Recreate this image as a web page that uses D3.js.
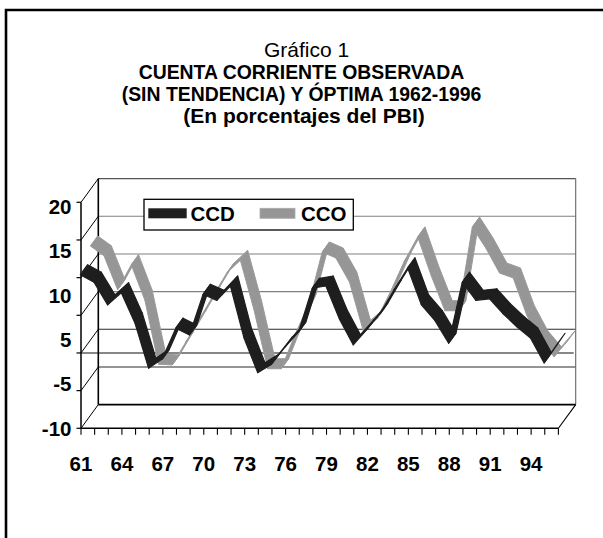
<!DOCTYPE html>
<html><head><meta charset="utf-8">
<script src="https://cdn.jsdelivr.net/npm/d3@7"></script>
<style>body{margin:0;background:#fff}svg{display:block}text{font-family:"Liberation Sans",Arial,Helvetica,sans-serif;fill:#000}</style>
</head><body><svg id="c" width="603" height="538"></svg>
<script>
// ---- data ----
const years = d3.range(1961, 1997);
const xLabelYears = [1961,1964,1967,1970,1973,1976,1979,1982,1985,1988,1991,1994];
const yTickLabels = ["20","15","10","5","-5","-10"];
const yTickValues = [20,15,10,5,0,-5,-10];
const gridValues = [15,10,5,0,-5];
const seriesNames = ["CCD","CCO"];
const CCD = [10.5,9.5,6.5,8.1,4.1,-1.9,-0.7,3.4,2.5,7.9,7.1,9.0,2.1,-2.5,-1.4,0.9,2.9,8.7,9.0,4.6,1.2,3.2,5.4,8.5,11.4,6.5,4.4,1.4,9.5,7.1,7.3,5.3,3.6,2.1,-1.2,1.4];
const CCO = [12.5,11.2,6.7,10.0,5.3,-3.2,-3.3,-0.25,2.8,5.9,8.9,10.6,4.0,-3.8,-3.8,0.7,4.7,11.7,10.9,7.7,1.3,2.8,6.4,10.4,13.7,8.5,3.9,3.9,15.0,12.2,8.9,8.25,3.3,-0.1,-2.2,-0.1];
const titleLines = ["Gráfico 1","CUENTA CORRIENTE OBSERVADA","(SIN TENDENCIA) Y ÓPTIMA 1962-1996","(En porcentajes del PBI)"];

// ---- layout ----
const svg = d3.select("#c");
const x = d3.scaleLinear().domain([1961, 1996]).range([81, 558.4]);
const y = d3.scaleLinear().domain([-10, 20]).range([428.3, 202.3]);
const D = [17.3, -23.7];           // front -> back depth vector
const yLab = d3.scalePoint().domain(yTickLabels).range([206.7, 428.2]);
const font = '"Liberation Sans",Arial,sans-serif';
const lblSize = "20.5px";

// outer frame
svg.append("path").attr("d","M6,538V10H603").attr("fill","none").attr("stroke","#000").attr("stroke-width",2.6);

const bx0 = x(1961) + D[0], bx1 = x(1996) + D[0];
// back wall gridlines
gridValues.forEach(v => {
  svg.append("line").attr("x1", bx0).attr("x2", bx1)
    .attr("y1", y(v) + D[1]).attr("y2", y(v) + D[1])
    .attr("stroke", v <= 0 ? "#2a2a2a" : "#808080").attr("stroke-width", 1.1);
});
// back wall border
svg.append("line").attr("x1",bx0).attr("x2",bx1).attr("y1",y(20)+D[1]).attr("y2",y(20)+D[1]).attr("stroke","#555").attr("stroke-width",1.1);
svg.append("line").attr("x1",bx1).attr("x2",bx1).attr("y1",y(20)+D[1]).attr("y2",y(-10)+D[1]).attr("stroke","#666").attr("stroke-width",1.1);
svg.append("line").attr("x1",bx0).attr("x2",bx0).attr("y1",y(20)+D[1]).attr("y2",y(-10)+D[1]).attr("stroke","#000").attr("stroke-width",1.6);
svg.append("line").attr("x1",bx0).attr("x2",bx1).attr("y1",y(-10)+D[1]).attr("y2",y(-10)+D[1]).attr("stroke","#000").attr("stroke-width",1.8);
// side wall diagonals
yTickValues.forEach(v => {
  svg.append("line").attr("x1", x(1961)).attr("y1", y(v))
    .attr("x2", x(1961) + D[0]).attr("y2", y(v) + D[1])
    .attr("stroke", "#000").attr("stroke-width", 1);
});
// zero line on the front plane
svg.append("line").attr("x1", x(1961)).attr("x2", bx1 - 2).attr("y1", y(0)).attr("y2", y(0)).attr("stroke","#111").attr("stroke-width",1.1);
// floor front edge + right diagonal
svg.append("line").attr("x1",x(1961)).attr("x2",x(1996)).attr("y1",y(-10)).attr("y2",y(-10)).attr("stroke","#000").attr("stroke-width",1.4);
svg.append("line").attr("x1",x(1996)).attr("y1",y(-10)).attr("x2",x(1996)+D[0]).attr("y2",y(-10)+D[1]).attr("stroke","#000").attr("stroke-width",1.1);
// front value axis
svg.append("line").attr("x1",x(1961)).attr("x2",x(1961)).attr("y1",y(20)).attr("y2",y(-10)).attr("stroke","#000").attr("stroke-width",1.5);

// ribbons
const rib = [7.3, -10];
function ribbon(vals, off, fill, edge, sw) {
  const g = svg.append("g");
  const P = vals.map((v, i) => [x(years[i]) + off[0], y(v) + off[1]]);
  for (let i = 0; i < P.length - 1; i++) {
    const a = P[i], b = P[i + 1];
    const pts = [a, b, [b[0] + rib[0], b[1] + rib[1]], [a[0] + rib[0], a[1] + rib[1]]];
    g.append("path").attr("d", "M" + pts.map(p => p.join(",")).join("L") + "Z")
      .attr("fill", fill).attr("stroke", edge).attr("stroke-width", sw).attr("stroke-linejoin","round");
  }
}
ribbon(CCO, [9.35, -12.85], "#969696", "#9a9a9a", 1.0);
ribbon(CCD, [-0.65, 0.85], "#1e1e1e", "#1e1e1e", 1.2);

// ticks
yTickValues.forEach(v => {
  svg.append("line").attr("x1", 76.5).attr("x2", 81).attr("y1", y(v)).attr("y2", y(v)).attr("stroke","#000").attr("stroke-width",1.2);
});
years.forEach(yr => {
  svg.append("line").attr("x1", x(yr)).attr("x2", x(yr)).attr("y1", y(-10)).attr("y2", y(-10) + 6.5).attr("stroke","#000").attr("stroke-width",1.1);
});
// tick labels
svg.selectAll(".yl").data(yTickLabels).enter().append("text")
  .attr("x", 71.5).attr("y", d => yLab(d) + 7.3).attr("text-anchor","end")
  .style("font-family", font).style("font-weight","bold").style("font-size",lblSize).text(d => d);
svg.selectAll(".xl").data(xLabelYears).enter().append("text")
  .attr("x", d => x(d)).attr("y", 470.5).attr("text-anchor","middle")
  .style("font-family", font).style("font-weight","bold").style("font-size",lblSize).text(d => String(d).slice(2));

// legend
const lg = svg.append("g");
lg.append("rect").attr("x",144).attr("y",199.3).attr("width",209.3).attr("height",30.7).attr("fill","#fff").attr("stroke","#000").attr("stroke-width",1.3);
lg.append("rect").attr("x",148.3).attr("y",208.3).attr("width",38.4).attr("height",10).attr("fill","#1e1e1e");
lg.append("text").attr("x",190.5).attr("y",221.3).style("font-family",font).style("font-weight","bold").style("font-size",lblSize).text(seriesNames[0]);
lg.append("rect").attr("x",260).attr("y",208.3).attr("width",35).attr("height",10).attr("fill","#969696").attr("stroke","#aaa").attr("stroke-width",0.8);
lg.append("text").attr("x",301).attr("y",221.3).style("font-family",font).style("font-weight","bold").style("font-size",lblSize).text(seriesNames[1]);

// title
const tY = [57, 79.3, 100.9, 122.5];
const tX = [306.5, 301.5, 301.5, 304];
const tS = ["21px", "19.4px", "19.4px", "21px"];
titleLines.forEach((t, i) => {
  svg.append("text").attr("x", tX[i]).attr("y", tY[i]).attr("text-anchor","middle")
    .style("font-family", font).style("font-weight", i === 0 ? "normal" : "bold")
    .style("font-size", tS[i]).text(t);
});
</script>
</body></html>
